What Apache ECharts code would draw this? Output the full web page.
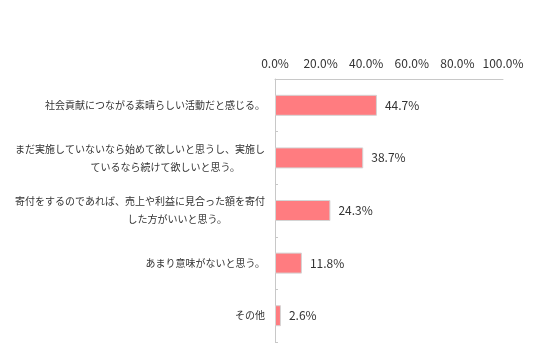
<!DOCTYPE html>
<html><head><meta charset="utf-8">
<script src="https://cdn.jsdelivr.net/npm/echarts@6/dist/echarts.min.js"></script>
<style>html,body{margin:0;padding:0;background:#fff}#c{width:536px;height:356px}</style>
</head><body><div id="c"></div>
<script>
const categories = [
  '社会貢献につながる素晴らしい活動だと感じる。',
  'まだ実施していないなら始めて欲しいと思うし、実施し\nているなら続けて欲しいと思う。',
  '寄付をするのであれば、売上や利益に見合った額を寄付\nした方がいいと思う。',
  'あまり意味がないと思う。',
  'その他'
];
const values = [44.7, 38.7, 24.3, 11.8, 2.6];
const xTicks = [0, 20, 40, 60, 80, 100];

const FONT = '"Noto Sans CJK JP", "Noto Sans", sans-serif';
const CAT_SIZE = 10;
const cv = document.createElement('canvas').getContext('2d');
cv.font = CAT_SIZE + 'px ' + FONT;
const rich = {};
const catFmt = categories.map((c, i) => {
  const lines = c.split('\n');
  if (lines.length === 1) return c;
  const ws = lines.map(l => cv.measureText(l).width);
  const W = Math.max(...ws);
  return lines.map((l, j) => {
    const key = 'r' + i + '_' + j;
    rich[key] = {fontSize: CAT_SIZE, lineHeight: 18, color: '#333', fontFamily: FONT,
                 padding: [0, Math.round((W - ws[j]) / 4), 0, 0]};
    return '{' + key + '|' + l + '}';
  }).join('\n');
});

const chart = echarts.init(document.getElementById('c'), null, {renderer: 'canvas'});
chart.setOption({
  animation: false,
  grid: {left: 275, right: 33, top: 79, bottom: 14, containLabel: false},
  xAxis: {
    type: 'value', position: 'top', min: 0, max: 100, interval: 20,
    axisLine: {show: true, lineStyle: {color: '#c8c8c8', width: 1}},
    axisTick: {show: false},
    splitLine: {show: false},
    axisLabel: {
      margin: 10, fontSize: 12, color: '#333', fontFamily: FONT,
      formatter: v => xTicks.includes(v) ? v.toFixed(1) + '%' : ''
    }
  },
  yAxis: {
    type: 'category', inverse: true, data: categories,
    axisLine: {show: true, lineStyle: {color: '#c8c8c8', width: 1}},
    axisTick: {show: true, inside: true, length: 3, lineStyle: {color: '#c8c8c8'}},
    axisLabel: {
      margin: 10, fontSize: CAT_SIZE, color: '#333', fontFamily: FONT, lineHeight: 18,
      formatter: (v, i) => catFmt[i], rich: rich
    }
  },
  series: [{
    type: 'bar', data: values, barWidth: 21,
    itemStyle: {color: '#FF7C80', borderColor: '#d4d4d4', borderWidth: 1},
    label: {show: true, position: 'right', distance: 8, fontSize: 12, color: '#333', fontFamily: FONT,
      formatter: p => p.value.toFixed(1) + '%'}
  }]
});
</script></body></html>
